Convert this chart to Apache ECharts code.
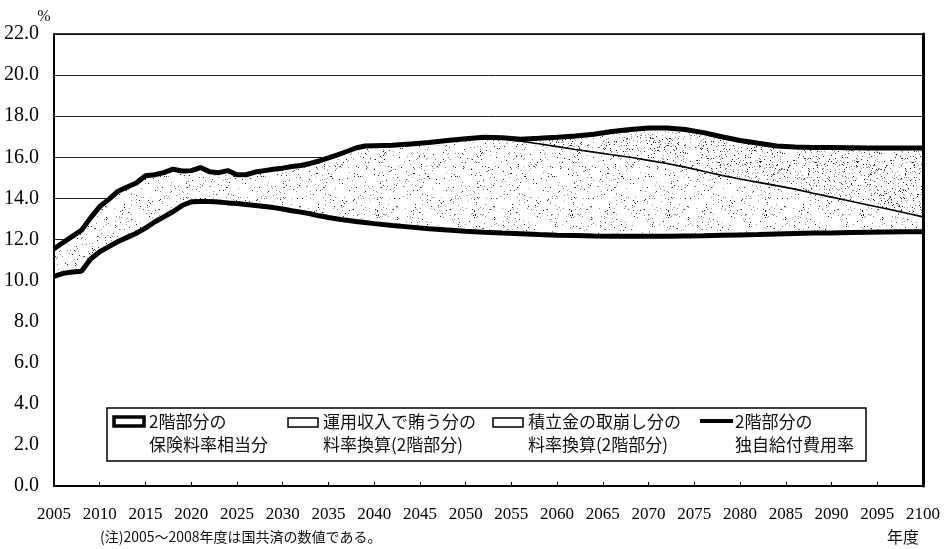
<!DOCTYPE html>
<html><head><meta charset="utf-8">
<script src="https://cdn.jsdelivr.net/npm/echarts@6/dist/echarts.min.js"></script>
<style>html,body{margin:0;padding:0;background:#fff}#c{width:947px;height:549px}</style>
</head><body><div id="c"></div>
<script>
// ---- data ----
const years = [2005,2006,2007,2008,2009,2010,2011,2012,2013,2014,2015,2016,2017,2018,2019,2020,2021,2022,2023,2024,2025,2026,2027,2028,2029,2030,2031,2032,2033,2034,2035,2036,2037,2038,2039,2040,2042,2044,2046,2048,2050,2052,2054,2056,2058,2060,2062,2064,2066,2068,2070,2072,2074,2076,2078,2080,2082,2084,2086,2088,2090,2092,2094,2096,2098,2100];
// 2階部分の独自給付費用率 (top thick line)
const benefitCostRate = [11.55,11.85,12.15,12.45,13.05,13.6,13.95,14.35,14.55,14.75,
  15.1,15.15,15.25,15.42,15.33,15.35,15.5,15.3,15.25,15.35,
  15.15,15.15,15.28,15.35,15.42,15.47,15.55,15.6,15.7,15.82,
  15.97,16.12,16.28,16.45,16.55,16.56,
  16.58,16.65,16.72,16.82,16.9,16.97,16.95,16.88,16.92,16.97,
  17.03,17.12,17.25,17.35,17.42,17.42,17.35,17.2,17.0,16.82,
  16.68,16.55,16.5,16.48,16.47,16.46,16.45,16.45,16.45,16.45];
// upper edge of 運用収入で賄う分 (thin line; above it: 積立金の取崩し分)
const investTopRate = [11.55,11.85,12.15,12.45,13.05,13.6,13.95,14.35,14.55,14.75,
  15.1,15.15,15.25,15.42,15.33,15.35,15.5,15.3,15.25,15.35,
  15.15,15.15,15.28,15.35,15.42,15.47,15.55,15.6,15.7,15.82,
  15.97,16.12,16.28,16.45,16.55,16.56,
  16.58,16.65,16.72,16.82,16.9,16.97,16.9,16.78,16.66,16.52,
  16.38,16.25,16.12,16.0,15.85,15.7,15.52,15.32,15.12,14.94,
  14.78,14.62,14.45,14.25,14.06,13.87,13.68,13.49,13.3,13.1];
// 2階部分の保険料率相当分 (bottom thick line)
const premiumRate = [10.2,10.35,10.42,10.45,11.05,11.4,11.65,11.9,12.1,12.3,
  12.55,12.85,13.1,13.35,13.65,13.83,13.85,13.85,13.82,13.78,
  13.75,13.7,13.65,13.6,13.55,13.48,13.4,13.33,13.25,13.15,
  13.07,13.0,12.93,12.87,12.82,12.77,
  12.68,12.6,12.52,12.46,12.4,12.35,12.31,12.28,12.24,12.21,
  12.19,12.17,12.16,12.15,12.15,12.16,12.17,12.18,12.2,12.22,
  12.24,12.27,12.29,12.31,12.32,12.34,12.35,12.36,12.37,12.38];
const legendNames = ['2階部分の保険料率相当分','運用収入で賄う分の料率換算(2階部分)','積立金の取崩し分の料率換算(2階部分)','2階部分の独自給付費用率'];
const noteText = '(注)2005～2008年度は国共済の数値である。';
const xUnit = '年度';
const yUnit = '%';

// ---- styling helpers ----
function stipple(size, count, seed){
  const c = document.createElement('canvas'); c.width = c.height = size;
  const g = c.getContext('2d'); g.fillStyle = '#fff'; g.fillRect(0,0,size,size);
  let s = seed;
  const rnd = () => { s = (s * 16807) % 2147483647; return s / 2147483647; };
  for (let i = 0; i < count; i++) {
    const x = Math.floor(rnd()*size), y = Math.floor(rnd()*size);
    g.fillStyle = (i % 3) ? 'rgba(0,0,0,0.45)' : 'rgba(0,0,0,0.85)';
    g.fillRect(x, y, 1, 1);
  }
  return c;
}
const lightPat = stipple(97, 420, 12345);
const densePat = stipple(97, 900, 67890);
const pair = arr => years.map((y,i)=>[y, arr[i]]);

const serif = '"Liberation Serif","DejaVu Serif",serif';
const jp = '"Noto Sans CJK JP","Noto Sans CJK SC",sans-serif';

const chart = echarts.init(document.getElementById('c'), null, {renderer:'canvas'});
const hiddenAxis = {show:true, axisLabel:{show:false}, axisTick:{show:false}, splitLine:{show:false}};
function txt(t, x, y, size, align, fam){
  return {type:'text', z:30, style:{text:t, x:x, y:y, font: size+'px '+(fam||jp), fill:'#111',
    align:align||'left', verticalAlign:'middle', textAlign:align||'left', textVerticalAlign:'middle'}};
}
chart.setOption({
  animation:false,
  backgroundColor:'#fff',
  grid:{left:54, right:24, top:34, bottom:63, containLabel:false},
  xAxis:[
    {type:'value', min:2005, max:2100, interval:5, z:10,
     axisLine:{show:true, lineStyle:{color:'#000', width:2}},
     axisTick:{show:true, inside:true, length:4, lineStyle:{color:'#000', width:1}},
     axisLabel:{show:true, margin:20, color:'#000', fontSize:17, fontFamily:serif, formatter:v=>String(v)},
     splitLine:{show:false}},
    Object.assign({type:'value', min:2005, max:2100, position:'top', z:10,
     axisLine:{show:true, onZero:false, lineStyle:{color:'#000', width:1.5}}}, hiddenAxis)
  ],
  yAxis:[
    {type:'value', min:0, max:22, interval:2, z:0,
     axisLine:{show:false}, axisTick:{show:false},
     axisLabel:{show:true, margin:15, color:'#000', fontSize:20, fontFamily:serif, formatter:v=>v.toFixed(1)},
     splitLine:{show:true, lineStyle:{color:'#222', width:1}}},
    Object.assign({type:'value', min:0, max:22, position:'left', z:10,
     axisLine:{show:true, onZero:false, lineStyle:{color:'#000', width:2}}}, hiddenAxis),
    Object.assign({type:'value', min:0, max:22, position:'right', z:10,
     axisLine:{show:true, onZero:false, lineStyle:{color:'#000', width:3}}}, hiddenAxis)
  ],
  series:[
    {name:legendNames[2], type:'line', data:pair(benefitCostRate), showSymbol:false,
     lineStyle:{width:0}, areaStyle:{color:{image:densePat, repeat:'repeat'}, opacity:1}},
    {name:legendNames[1], type:'line', data:pair(investTopRate), showSymbol:false,
     lineStyle:{color:'#000', width:1.6}, areaStyle:{color:{image:lightPat, repeat:'repeat'}, opacity:1}},
    {name:legendNames[0], type:'line', data:pair(premiumRate), showSymbol:false,
     lineStyle:{color:'#000', width:5}, areaStyle:{color:'#fff', opacity:1}},
    {name:legendNames[3], type:'line', data:pair(benefitCostRate), showSymbol:false,
     lineStyle:{color:'#000', width:5}}
  ],
  graphic:[
    txt(yUnit, 44, 17, 16, 'center', serif),
    txt(noteText, 100, 537, 14, 'left'),
    txt(xUnit, 919, 537, 16, 'right'),
    {type:'rect', z:20, shape:{x:107, y:408, width:759, height:53}, style:{fill:'#fff', stroke:'#000', lineWidth:1.5}},
    {type:'rect', z:21, shape:{x:114, y:417, width:30, height:9}, style:{fill:'#fff', stroke:'#000', lineWidth:3.5}},
    txt('2階部分の', 149, 422, 17), txt('保険料率相当分', 149, 445, 17),
    {type:'rect', z:21, shape:{x:288, y:418, width:30, height:9}, style:{fill:'#fff', stroke:'#000', lineWidth:1.5}},
    txt('運用収入で賄う分の', 323, 422, 17), txt('料率換算(2階部分)', 323, 445, 17),
    {type:'rect', z:21, shape:{x:493, y:418, width:30, height:9}, style:{fill:'#fff', stroke:'#000', lineWidth:1.5}},
    txt('積立金の取崩し分の', 528, 422, 17), txt('料率換算(2階部分)', 528, 445, 17),
    {type:'line', z:21, shape:{x1:700, y1:421, x2:733, y2:421}, style:{stroke:'#000', lineWidth:4}},
    txt('2階部分の', 735, 422, 17), txt('独自給付費用率', 735, 445, 17)
  ]
});
</script></body></html>
